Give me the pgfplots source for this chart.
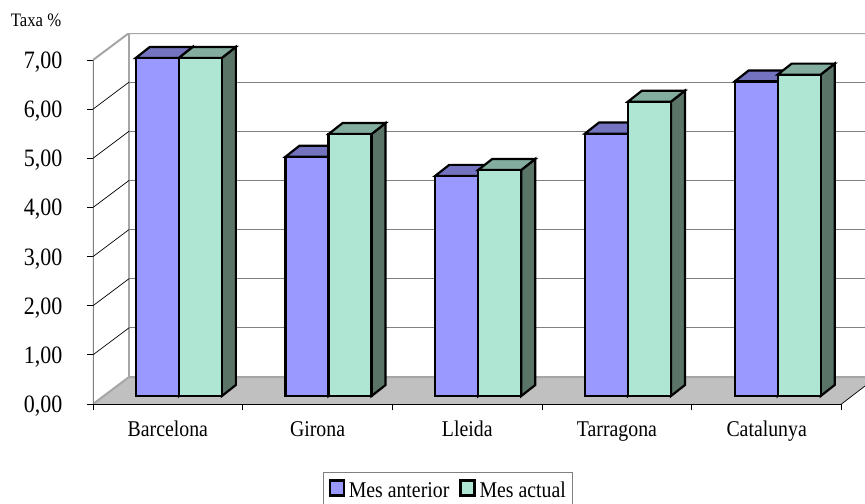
\documentclass[border=0pt]{standalone}
\usepackage{fontspec}
\setmainfont[FakeStretch=0.88]{Liberation Serif}
\usepackage{pgfplots}
\usepackage{pgfplotstable}
\pgfplotsset{compat=1.18}

\definecolor{barA}{HTML}{9999FF}
\definecolor{barAtop}{HTML}{7373BF}
\definecolor{barB}{HTML}{AEE6D3}
\definecolor{barBtop}{HTML}{83AD9E}
\definecolor{barBside}{HTML}{5A7568}
\definecolor{floorc}{HTML}{C0C0C0}
\definecolor{wallc}{HTML}{A6A6A6}
\definecolor{gridc}{HTML}{808080}

% x = category position, 1 unit = one category; y = rate
\pgfplotstableread{
x    v
0.5  6.88
1.5  4.87
2.5  4.48
3.5  5.34
4.5  6.40
}\anterior
\pgfplotstableread{
x    v
0.5  6.88
1.5  5.33
2.5  4.60
3.5  5.99
4.5  6.54
}\actual

% top and side faces of a bar: center, value, left offset, top colour, side colour
\newcommand\depthbar[5]{%
  \pgfmathsetmacro\xa{#1+#3}%
  \pgfmathsetmacro\xb{\xa+0.2873}%
  \pgfmathsetmacro\xc{\xb+0.0935}%
  \pgfmathsetmacro\xd{\xa+0.0935}%
  \pgfmathsetmacro\ya{#2+0.1628}%
  \pgfmathsetmacro\yb{\ya+0.224}%
  \edef\tmp{%
    \noexpand\addplot[face,fill=#5] coordinates {(\xb,0.1628) (\xc,0.3868) (\xc,\yb) (\xb,\ya)} -- cycle;
    \noexpand\addplot[face,fill=#4] coordinates {(\xa,\ya) (\xb,\ya) (\xc,\yb) (\xd,\yb)} -- cycle;
  }\tmp
}
\newcommand\gridline[1]{%
  \pgfmathsetmacro\yb{#1+0.5495}%
  \edef\tmp{%
    \noexpand\addplot[forget plot,black,line width=0.7bp] coordinates {(0,#1) (0.2405,\yb)};
    \noexpand\addplot[forget plot,gridc,line width=1bp] coordinates {(0.2405,\yb) (5.157,\yb)};
  }\tmp
}

\begin{document}
\begin{tikzpicture}
\path[use as bounding box] (-93bp,-100bp) rectangle (772bp,404bp);
\begin{axis}[
  at={(0,0)}, anchor=south west,
  scale only axis, width=772bp, height=371bp,
  xmin=0, xmax=5.157, ymin=0, ymax=7.55,
  axis x line=bottom, axis y line=left,
  axis line style={draw=none,-},
  tick align=outside,
  major tick length=6bp, minor tick length=6bp,
  tick style={black,line width=0.8bp},
  xtick={0.5,1.5,2.5,3.5,4.5},
  xticklabels={Barcelona,Girona,Lleida,Tarragona,Catalunya},
  major x tick style={draw=none},
  minor xtick={0,1,2,3,4,5},
  ytick={0,1,2,3,4,5,6,7},
  typeset ticklabels with strut,
  xticklabel style={font=\fontsize{22.5bp}{22.5bp}\selectfont,yshift=-7bp},
  yticklabel style={font=\fontsize{25bp}{25bp}\selectfont,xshift=-21bp,yshift=-3.5bp,
    /pgf/number format/.cd,fixed,fixed zerofill,precision=2,use comma,assume math mode=true},
  ylabel={Taxa \%},
  every axis y label/.style={at={(axis description cs:-0.0738,1.035)},anchor=center,
    font=\fontsize{19bp}{19bp}\selectfont},
  legend columns=2,
  legend cell align=left,
  legend style={at={(axis description cs:0.298,-0.183)},anchor=north west,
    draw=gridc,line width=1bp,inner xsep=5bp,inner ysep=7bp,
    font=\fontsize{22.5bp}{22.5bp}\selectfont,
    nodes={inner ysep=1bp,inner xsep=2bp},
    /tikz/every even column/.append style={column sep=8bp},
    /tikz/every odd column/.append style={column sep=2bp}},
  face/.style={forget plot,draw=black,line width=2.2bp,line join=miter},
  frontbar/.style={ybar,draw=black,line width=2.2bp,bar width=43bp,yshift=8bp,
    legend image code/.code={\draw[##1,draw=black,line width=2.2bp,yshift=0bp] (0bp,-13bp) rectangle (14bp,2bp);}},
]
% floor and walls
\addplot[forget plot,fill=floorc,draw=none] coordinates {(0,0) (0.2405,0.5495) (5.157,0.5495) (5.157,0.366) (5,0)} -- cycle;
\addplot[forget plot,wallc,line width=2bp] coordinates {(0,0) (0.2405,0.5495) (5.157,0.5495)};
\addplot[forget plot,black,line width=0.7bp] coordinates {(5,0) (5.157,0.366)};
\addplot[forget plot,wallc,line width=2bp] coordinates {(0,7) (0.2405,7.5495) (5.157,7.5495)};
\addplot[forget plot,wallc,line width=2bp] coordinates {(0.2405,0.5495) (0.2405,7.5495)};
\addplot[forget plot,gridc,line width=1.5bp] coordinates {(0,0) (0,7)};
\gridline{1}\gridline{2}\gridline{3}\gridline{4}\gridline{5}\gridline{6}
\addplot[forget plot,black,line width=1bp] coordinates {(0,0) (5,0)};
% depth faces
\depthbar{0.5}{6.88}{-0.2138}{barAtop}{barAtop}
\depthbar{0.5}{6.88}{0.0735}{barBtop}{barBside}
\depthbar{1.5}{4.87}{-0.2138}{barAtop}{barAtop}
\depthbar{1.5}{5.33}{0.0735}{barBtop}{barBside}
\depthbar{2.5}{4.48}{-0.2138}{barAtop}{barAtop}
\depthbar{2.5}{4.60}{0.0735}{barBtop}{barBside}
\depthbar{3.5}{5.34}{-0.2138}{barAtop}{barAtop}
\depthbar{3.5}{5.99}{0.0735}{barBtop}{barBside}
\depthbar{4.5}{6.40}{-0.2138}{barAtop}{barAtop}
\depthbar{4.5}{6.54}{0.0735}{barBtop}{barBside}
% front faces
\addplot[frontbar,fill=barA,bar shift=-10.5bp] table[x=x,y=v] {\anterior};
\addlegendentry{Mes anterior}
\addplot[frontbar,fill=barB,bar shift=32.5bp] table[x=x,y=v] {\actual};
\addlegendentry{Mes actual}
\end{axis}
\end{tikzpicture}
\end{document}
